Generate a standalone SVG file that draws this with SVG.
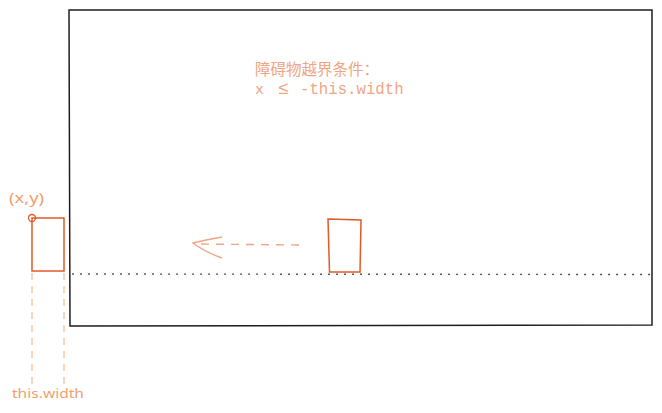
<svg xmlns="http://www.w3.org/2000/svg" width="662" height="413" viewBox="0 0 662 413">
<style>
.frame{fill:#fff;stroke:#1e1e1e;stroke-width:1.5}
.obs{fill:none;stroke:#e05a28;stroke-width:1.5}
.guide{stroke:#f5bd85;stroke-width:1.2;stroke-dasharray:7 6;fill:none}
.hand{font-family:"Comic Sans MS","Noto Sans",sans-serif;fill:#f0a070}
.note{fill:#f0a585}
</style>
<rect width="662" height="413" fill="#fff"/>
<g id="scene">
<path class="frame" d="M69,10 L652,10 L652,325 L70,326 Z"/>
</g>
<g id="ground">
<line x1="72" y1="274" x2="652" y2="274.5" stroke="#555" stroke-width="1.4" stroke-dasharray="2 6"/>
</g>
<g id="obstacle-out">
<rect class="obs" x="32" y="218" width="32" height="53"/>
<circle cx="32" cy="218" r="3.5" fill="none" stroke="#e05a28" stroke-width="1.3"/>
<text class="hand" x="9" y="203" font-size="14" textLength="35" lengthAdjust="spacingAndGlyphs">(x,y)</text>
</g>
<g id="width-guides">
<line class="guide" x1="32" y1="273" x2="32" y2="386"/>
<line class="guide" x1="64" y1="273" x2="64" y2="386"/>
<text class="hand" x="12" y="398" font-size="13" fill="#f5b46e" textLength="72" lengthAdjust="spacingAndGlyphs">this.width</text>
</g>
<g id="obstacle-in">
<path class="obs" d="M328,219 L361,220 L360,272 L329.5,272 Z"/>
</g>
<g id="connectors">
<line x1="299" y1="245" x2="195" y2="244" stroke="#f0a585" stroke-width="1.4" stroke-dasharray="8 7"/>
<path d="M222,237 Q205,240 193,243 Q205,252 222,258" fill="none" stroke="#f0a585" stroke-width="1.4"/>
</g>
<g id="condition">
<text class="note" x="255" y="75" font-family="'Noto Sans CJK SC',sans-serif" font-size="15.5">障碍物越界条件：</text>
<text class="note" y="94" font-family="'Liberation Mono',monospace" font-size="15"><tspan x="255">x</tspan> <tspan x="278" font-size="18">≤</tspan> <tspan x="300" font-size="15.7">-this.width</tspan></text>
</g>
</svg>
